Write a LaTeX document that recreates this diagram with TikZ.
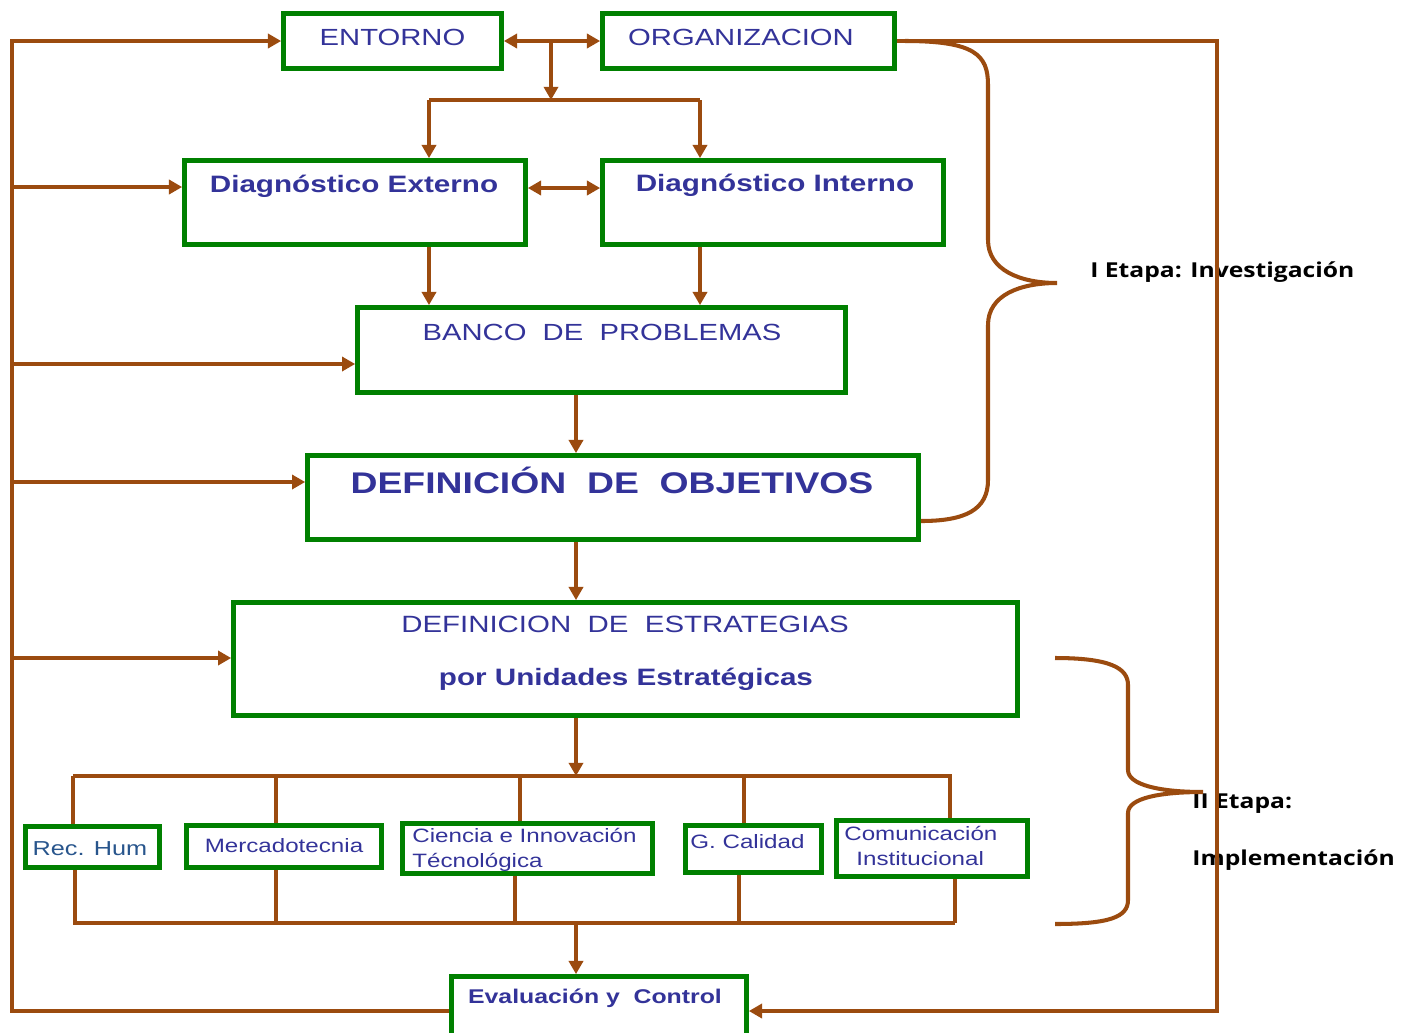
\documentclass[tikz,border=0pt]{standalone}
\usepackage{fontspec}
\setmainfont{Liberation Sans}[FakeStretch=1.25]
\newfontfamily\etapafont{Open Sans}[FakeStretch=1.2]
\usetikzlibrary{arrows.meta}
\definecolor{brn}{RGB}{155,75,15}
\definecolor{grn}{RGB}{0,128,0}
\definecolor{azul}{RGB}{51,51,153}
\definecolor{azulrh}{RGB}{40,85,140}
\newcommand\tam[1]{\fontsize{#1pt}{#1pt}\selectfont}

\begin{document}
\begin{tikzpicture}[x=0.02cm,y=-0.02cm,
	>={Triangle[length=7.5pt,width=8pt]},
	caja/.style={draw=grn,line width=2.7pt,inner sep=0pt},
	linea/.style={draw=brn,line width=2.3pt},
	rotulo/.style={text=azul,inner sep=0pt,anchor=base},
	etapa/.style={inner sep=0pt,anchor=base west,font=\etapafont\bfseries\tam{11.7}}]
	\useasboundingbox (0,0) rectangle (1414,1032);

	% cajas
	\node[caja,minimum width=4.36cm,minimum height=1.10cm] (ent) at (392.5,41) {};
	\node[caja,minimum width=5.84cm,minimum height=1.10cm] (org) at (748.5,41) {};
	\node[caja,minimum width=6.82cm,minimum height=1.68cm] (dext) at (355,202.5) {};
	\node[caja,minimum width=6.82cm,minimum height=1.68cm] (dint) at (773,202.5) {};
	\node[caja,minimum width=9.76cm,minimum height=1.70cm] (banco) at (601.5,350) {};
	\node[caja,minimum width=12.22cm,minimum height=1.68cm] (obj) at (613,497.5) {};
	\node[caja,minimum width=15.68cm,minimum height=2.26cm] (estr) at (625.5,659) {};
	\node[caja,minimum width=2.68cm,minimum height=0.82cm] (rec) at (92.5,847) {};
	\node[caja,minimum width=3.90cm,minimum height=0.84cm] (merc) at (284,846.5) {};
	\node[caja,minimum width=5.00cm,minimum height=1.00cm] (cien) at (527.5,848.5) {};
	\node[caja,minimum width=2.72cm,minimum height=0.94cm] (gcal) at (753.5,849) {};
	\node[caja,minimum width=3.82cm,minimum height=1.12cm] (com) at (932,848.5) {};
	\node[caja,minimum width=5.90cm,minimum height=1.38cm] (eval) at (599,1011) {};

	% textos
	\node[rotulo,font=\tam{13.3}] (entT) at (392.5,45) {ENTORNO};
	\node[rotulo,font=\tam{13.3}] (orgT) at (741,45) {ORGANIZACION};
	\node[rotulo,font=\bfseries\tam{13.5}] (dextT) at (354,192) {Diagnóstico Externo};
	\node[rotulo,font=\bfseries\tam{13.5}] (dintT) at (775,191) {Diagnóstico Interno};
	\node[rotulo,font=\tam{13.3}] (bancoT) at (602,340) {BANCO~ DE~ PROBLEMAS};
	\node[rotulo,font=\bfseries\tam{17}] (objT) at (612,493) {DEFINICIÓN~ DE~ OBJETIVOS};
	\node[rotulo,font=\tam{13.4}] (estrT) at (625,632) {DEFINICION~ DE~ ESTRATEGIAS};
	\node[rotulo,font=\bfseries\tam{13.5}] (estrU) at (626,685) {por Unidades Estratégicas};
	\node[rotulo,font=\tam{11.5},text=azulrh] (recT) at (90,855) {Rec. Hum};
	\node[rotulo,font=\tam{11}] (mercT) at (284,852) {Mercadotecnia};
	\node[rotulo,font=\tam{11},anchor=base west] (cienT) at (412,842) {Ciencia e Innovación};
	\node[rotulo,font=\tam{11},anchor=base west] (cienU) at (412,867) {Técnológica};
	\node[rotulo,font=\tam{11},anchor=base west] (gcalT) at (690,848) {G. Calidad};
	\node[rotulo,font=\tam{11},anchor=base west] (comT) at (844,840) {Comunicación};
	\node[rotulo,font=\tam{11},anchor=base west] (comU) at (856,865) {Institucional};
	\node[rotulo,font=\bfseries\tam{11.3}] (evalT) at (595,1003) {Evaluación y~ Control};

	% etapas
	\node[etapa] (et1) at (1090,277) {I Etapa: Investigación};
	\node[etapa] (et2) at (1192,808) {II Etapa:};
	\node[etapa] (et3) at (1192,865) {Implementación};

	% lazo izquierdo y derecho
	\coordinate (rl) at (12,41);
	\coordinate (rr) at (1217,41);
	\draw[linea,->] (eval.west) -| (rl) -- (ent.west);
	\foreach \n/\y in {dext/187,banco/364,obj/482,estr/658}{
		\coordinate (r\n) at (12,\y);
		\draw[linea,->] (r\n) -- (r\n -| \n.west);
	}
	\draw[linea,->] (org.east) -- (rr) |- (eval.east);

	% investigacion
	\coordinate (m1) at (551,41);
	\coordinate (m2) at (551,100);
	\coordinate (dl) at (429,100);
	\coordinate (dr) at (700,100);
	\draw[linea,<->] (ent.east) -- (org.west);
	\draw[linea,->] (m1) -- (m2);
	\draw[linea] (dl) -- (dr);
	\draw[linea,->] (dl) -- (dl |- dext.north);
	\draw[linea,->] (dr) -- (dr |- dint.north);
	\coordinate (dd) at (564,188);
	\draw[linea,<->] (dd -| dext.east) -- (dd -| dint.west);
	\draw[linea,->] (dl |- dext.south) -- (dl |- banco.north);
	\draw[linea,->] (dr |- dint.south) -- (dr |- banco.north);
	\coordinate (cx) at (576,776);
	\draw[linea,->] (cx |- banco.south) -- (cx |- obj.north);
	\draw[linea,->] (cx |- obj.south) -- (cx |- estr.north);
	\draw[linea,->] (cx |- estr.south) -- (cx);

	% unidades
	\coordinate (b1) at (73,776);
	\coordinate (b2) at (952,776);
	\draw[linea] (b1) -- (b2);
	\foreach \n/\x in {rec/73,merc/276,cien/520,gcal/744,com/950}{
		\coordinate (t\n) at (\x,776);
		\draw[linea] (t\n) -- (t\n |- \n.north);
	}
	\coordinate (c1) at (73,923);
	\coordinate (c2) at (955,923);
	\coordinate (cb) at (576,923);
	\draw[linea] (c1) -- (c2);
	\foreach \n/\x in {rec/75,merc/276,cien/515,gcal/739,com/955}{
		\coordinate (u\n) at (\x,923);
		\draw[linea] (u\n |- \n.south) -- (u\n);
	}
	\draw[linea,->] (cb) -- (cb |- eval.north);

	% llaves
	\draw[linea] (905,41) .. controls (975,41) and (988,55) .. (988,85) -- (988,240)
		.. controls (988,270) and (1020,283) .. (1057,283)
		.. controls (1020,283) and (988,295) .. (988,325) -- (988,480)
		.. controls (988,510) and (965,521) .. (921,521);
	\draw[linea] (1055,658) .. controls (1110,658) and (1128,668) .. (1128,685) -- (1128,770)
		.. controls (1128,785) and (1160,792) .. (1203,792)
		.. controls (1160,792) and (1128,798) .. (1128,813) -- (1128,900)
		.. controls (1128,917) and (1110,924) .. (1055,924);
\end{tikzpicture}
\end{document}
